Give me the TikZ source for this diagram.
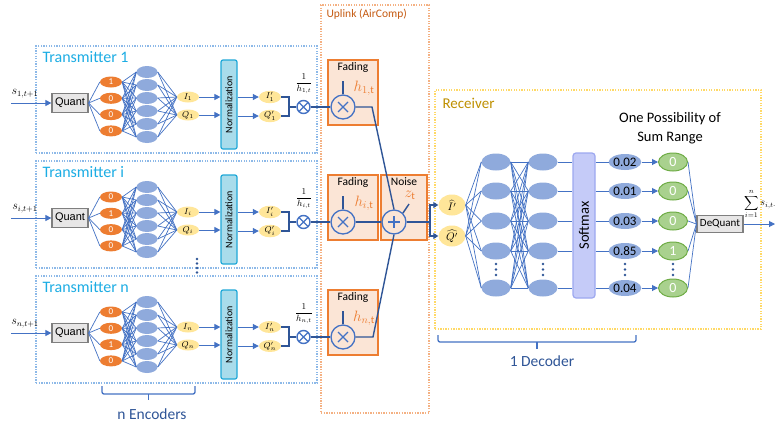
\documentclass[tikz,border=0pt]{standalone}
\usepackage{fix-cm}
\usepackage{fontspec}
\setmainfont{Carlito}
\newfontfamily\arialfont{Liberation Sans}
\usetikzlibrary{arrows.meta,calc,shapes.geometric}
\newcommand\myfs[1]{\fontsize{#1}{#1}\selectfont}
\definecolor{lnblue}{HTML}{4472C4}
\definecolor{dkblue}{HTML}{2F5597}
\definecolor{orng}{HTML}{ED7D31}
\definecolor{hidblue}{HTML}{8FAADC}
\definecolor{yel}{HTML}{FFE699}
\definecolor{normfill}{HTML}{A9DCEB}
\definecolor{normdraw}{HTML}{1FA8D8}
\definecolor{fadefill}{HTML}{FBE5D6}
\definecolor{txdraw}{HTML}{8DB9E8}
\definecolor{txtext}{HTML}{1CADE4}
\definecolor{updraw}{HTML}{F4B183}
\definecolor{uptext}{HTML}{C55A11}
\definecolor{rxdraw}{HTML}{FFD966}
\definecolor{rxtext}{HTML}{BF9000}
\definecolor{smfill}{HTML}{C5CBF8}
\definecolor{smdraw}{HTML}{9DA8F0}
\definecolor{grfill}{HTML}{A9D18E}
\definecolor{grdraw}{HTML}{70AD47}
\definecolor{qfill}{HTML}{E7E6E6}
\definecolor{qdraw}{HTML}{7F7F7F}
\tikzset{
  net/.style={draw=lnblue, line width=0.7pt},
  arr/.style={draw=lnblue, line width=1pt, -{Triangle[length=6pt,width=6pt]}},
  thickln/.style={draw=dkblue, line width=1.4pt},
  thickarr/.style={draw=dkblue, line width=1.4pt, -{Triangle[length=5pt,width=6pt]}},
  bitnode/.style={ellipse, fill=orng, minimum width=22pt, minimum height=11pt, inner sep=0pt, text=white, font=\myfs{9}},
  hid/.style={ellipse, fill=hidblue, minimum width=21pt, minimum height=12pt, inner sep=0pt},
  iq/.style={ellipse, fill=yel, minimum width=22pt, minimum height=11pt, inner sep=0pt, font=\myfs{8.5}},
  quant/.style={rectangle, fill=qfill, draw=qdraw, line width=1.2pt, minimum width=36pt, minimum height=19pt, inner sep=0pt, font=\arialfont\myfs{11}},
  normbox/.style={rectangle, rounded corners=2pt, fill=normfill, draw=normdraw, line width=1.2pt, minimum width=16pt, minimum height=89pt, inner sep=0pt},
  txbox/.style={draw=txdraw, line width=1.3pt, dash pattern=on 1.3pt off 1.3pt, inner sep=0pt},
  upbox/.style={draw=updraw, line width=1.3pt, dash pattern=on 1.3pt off 1.3pt, inner sep=0pt},
  rxbox/.style={draw=rxdraw, line width=1.3pt, dash pattern=on 1.3pt off 1.3pt, inner sep=0pt},
  otimes/.style={circle, draw=lnblue, line width=1.4pt, minimum size=13pt, inner sep=0pt, fill=white,
    path picture={\draw[lnblue, line width=1.3pt] (path picture bounding box.north west)--(path picture bounding box.south east) (path picture bounding box.south west)--(path picture bounding box.north east);}},
  bigx/.style={circle, draw=lnblue, line width=1.3pt, minimum size=24pt, inner sep=0pt,
    path picture={\draw[lnblue, line width=1.2pt] ([shift={(-5,-5)}]path picture bounding box.center)--([shift={(5,5)}]path picture bounding box.center) ([shift={(-5,5)}]path picture bounding box.center)--([shift={(5,-5)}]path picture bounding box.center);}},
  bigplus/.style={circle, draw=lnblue, line width=1.3pt, minimum size=24pt, inner sep=0pt,
    path picture={\draw[lnblue, line width=1.4pt] ([shift={(-6,0)}]path picture bounding box.center)--([shift={(6,0)}]path picture bounding box.center) ([shift={(0,-6)}]path picture bounding box.center)--([shift={(0,6)}]path picture bounding box.center);}},
  fadebox/.style={rectangle, fill=fadefill, draw=orng, line width=1.3pt, minimum width=50pt, minimum height=65pt, inner sep=0pt},
  dhid/.style={ellipse, fill=hidblue, minimum width=29pt, minimum height=17pt, inner sep=0pt},
  prob/.style={ellipse, fill=hidblue, minimum width=27pt, minimum height=16pt, inner sep=0pt, font=\myfs{13}},
  grn/.style={ellipse, fill=grfill, draw=grdraw, line width=1pt, minimum width=29pt, minimum height=18pt, inner sep=0pt, text=white, font=\myfs{14}},
  hat/.style={ellipse, fill=yel, minimum width=27pt, minimum height=21pt, inner sep=0pt, font=\myfs{11}},
  softbox/.style={rectangle, rounded corners=3pt, fill=smfill, draw=smdraw, line width=1.2pt, minimum width=22pt, minimum height=145pt, inner sep=0pt},
  dequant/.style={rectangle, fill=qfill, draw=qdraw, line width=1.2pt, minimum width=46pt, minimum height=17pt, inner sep=0pt, font=\myfs{11}},
  brace/.style={draw=lnblue, line width=1.3pt, rounded corners=2pt},
  bracetext/.style={text=dkblue, font=\myfs{15.5}},
}
\begin{document}
\begin{tikzpicture}[x=1pt,y=-1pt]
\useasboundingbox (0,0) rectangle (775,424);
\fill[white] (0,0) rectangle (775,424);

% container boxes
\node[upbox, minimum width=108pt, minimum height=408pt] (up) at (375,209) {};
\node[anchor=west, text=uptext, font=\myfs{11.5}] (upl) at (323,14) {Uplink (AirComp)};
\node[rxbox, minimum width=326pt, minimum height=239pt] (rx) at (598,209.5) {};
\node[anchor=west, text=rxtext, font=\myfs{15}] (rxl) at (439,103) {Receiver};

% transmitters
\foreach \r/\dy/\sub in {1/0/1, 2/115/i, 3/230/n} {
  \node[txbox, minimum width=281pt, minimum height=107pt] (tx\r) at (176.5,99.5+\dy) {};
  \node[anchor=west, text=txtext, font=\myfs{16}] (txl\r) at (39,57+\dy) {Transmitter \sub};
  \node[quant] (q\r) at (70,103+\dy) {Quant};
  \coordinate (in\r) at (11,103+\dy);
  \draw[arr] (in\r) -- (q\r);
  \node[font=\myfs{12}] (sl\r) at (25,94+\dy) {$s_{\sub,t+1}$};
  \foreach \k in {1,...,4} {
    \node[bitnode] (o\r-\k) at (111,65.7+16.3*\k+\dy) {\ifnum\k=\r\relax 1\else 0\fi};
  }
  \foreach \j in {1,...,6} {
    \node[hid] (h\r-\j) at (147,59+13*\j+\dy) {};
  }
  \node[iq] (I\r) at (188,97+\dy) {$I_{\sub}$};
  \node[iq] (Q\r) at (188,115+\dy) {$Q_{\sub}$};
  \foreach \k in {1,...,4} {
    \draw[net] (q\r.east) -- (o\r-\k.west);
    \foreach \j in {1,...,6} { \draw[net] (o\r-\k.east) -- (h\r-\j.west); }
  }
  \foreach \j in {1,...,6} {
    \draw[net] (h\r-\j.east) -- (I\r.west);
    \draw[net] (h\r-\j.east) -- (Q\r.west);
  }
  \node[normbox] (nm\r) at (229,104.5+\dy) {\rotatebox{90}{\myfs{10}Normalization}};
  \draw[arr] (I\r) -- (I\r -| nm\r.west);
  \draw[arr] (Q\r) -- (Q\r -| nm\r.west);
  \node[iq] (Ip\r) at (270,97+\dy) {$I'_{\sub}$};
  \node[iq] (Qp\r) at (270,116+\dy) {$Q'_{\sub}$};
  \draw[arr] (nm\r.east |- Ip\r) -- (Ip\r);
  \draw[arr] (nm\r.east |- Qp\r) -- (Qp\r);
  \coordinate (mg\r) at (289,107+\dy);
  \draw[thickln] (Ip\r.east) -| (mg\r) |- (Qp\r.east);
  \node[otimes] (x\r) at (303.5,107+\dy) {};
  \draw[thickln] (mg\r) -- (x\r);
  \node[font=\myfs{9}] (hl\r) at (304,84+\dy) {$\displaystyle\frac{1}{h_{\sub,t}}$};
  % fading
  \node[fadebox] (fb\r) at (353,92.5+\dy) {};
  \node[font=\myfs{11.5}] (fl\r) at (353,67+\dy) {Fading};
  \node[bigx] (fc\r) at (343,107+\dy) {};
  \coordinate (ft\r) at (343,81+\dy);
  \draw[thickln] (fc\r) -- (ft\r);
  \node[text=orng, font=\myfs{15}] (hh\r) at (364,88+\dy) {$h_{\sub,\mathrm{t}}$};
  \draw[thickln] (x\r) -- (fc\r);
}
\fill[dkblue] (197,259) circle (1.3) (197,263.5) circle (1.3) (197,268) circle (1.3) (197,272.5) circle (1.3);

% noise and sum
\node[fadebox, minimum width=46pt] (nb) at (404,207.5) {};
\node[font=\myfs{11.5}] (nl) at (404,182) {Noise};
\node[bigplus] (pl) at (394,222) {};
\node[text=orng, font=\myfs{15}] (zt) at (410,195) {$z_{\mathrm{t}}$};
\coordinate (zc) at (409,204);
\draw[thickln] (pl.45) -- (zc);
\coordinate (k1) at (372,107);
\draw[thickln] (fc1.east) -- (k1) -- (pl.north);
\draw[thickln] (fc2) -- (pl);
\coordinate (k3) at (373,337);
\draw[thickln] (fc3.east) -- (k3) -- (pl.south);
\node[hat] (hatI) at (452,205) {$\widehat{I'}$};
\node[hat] (hatQ) at (452,236) {$\widehat{Q'}$};
\coordinate (br) at (430,222);
\draw[thickln] (pl) -- (br);
\draw[thickarr] (br) |- (hatI);
\draw[thickarr] (br) |- (hatQ);

% decoder
\foreach \y [count=\k] in {162,191,221,251,288} {
  \node[dhid] (da\k) at (496,\y) {};
  \node[dhid] (db\k) at (543,\y) {};
}
\foreach \k in {1,...,5} {
  \draw[net] (hatI.east) -- (da\k.west);
  \draw[net] (hatQ.east) -- (da\k.west);
  \foreach \j in {1,...,5} { \draw[net] (da\j.east) -- (db\k.west); }
}
\node[softbox] (sm) at (584,225.5) {\rotatebox{90}{\myfs{14.5}Softmax}};
\node[dequant] (dq) at (720,224) {DeQuant};
\foreach \y/\p/\g [count=\k] in {162/0.02/0,191/0.01/0,221/0.03/0,251/0.85/1,288/0.04/0} {
  \node[prob] (p\k) at (625,\y) {\p};
  \node[grn] (g\k) at (673,\y) {\g};
  \draw[net] (db\k.east) -- (db\k.east -| sm.west);
  \draw[net] (sm.east |- p\k) -- (p\k.west);
  \draw[arr] (p\k) -- (g\k);
  \draw[net] (g\k.east) -- (dq.west);
}
\foreach \x in {496,543,625,673} {
  \fill[dkblue] (\x,264) circle (1.3) (\x,269.5) circle (1.3) (\x,275) circle (1.3);
}
\node[align=center, font=\fontsize{14.5}{19}\selectfont] (opt) at (670,128) {One Possibility of\\Sum Range};
\coordinate (out) at (775,224);
\draw[arr] (dq) -- (out);
\node[anchor=west, font=\myfs{10}, inner sep=1pt] (sumt) at (743,204) {$\displaystyle\sum_{i=1}^{n} s_{i,t+1}$};

% braces
\coordinate (eb1) at (102,386);
\coordinate (eb2) at (195,386);
\coordinate (ebm) at (148.5,394);
\draw[brace] (eb1) -- (102,394) -- (195,394) -- (eb2);
\draw[draw=lnblue, line width=1.3pt] (ebm) -- (148.5,400);
\node[bracetext] (enc) at (152,414) {n Encoders};
\coordinate (db1) at (438,335);
\coordinate (db2) at (636,335);
\draw[brace] (db1) -- (438,342) -- (636,342) -- (db2);
\draw[draw=lnblue, line width=1.3pt] (537,342) -- (537,349);
\node[bracetext] (dec) at (542,361) {1 Decoder};
\end{tikzpicture}
\end{document}
